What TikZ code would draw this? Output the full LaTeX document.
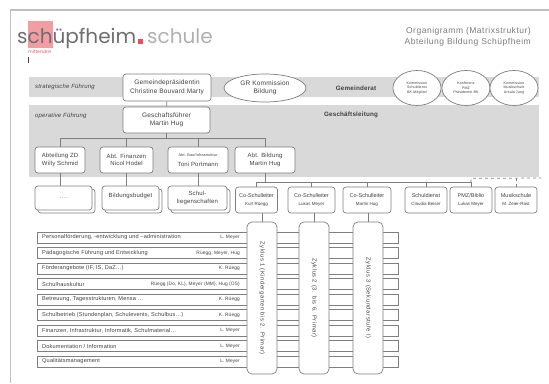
\documentclass[tikz,border=0pt]{standalone}
\usepackage{fontspec}
\setmainfont[LetterSpace=3]{Liberation Sans}
\newfontfamily\logofont{Poppins}
\usetikzlibrary{shapes.geometric}
\definecolor{bandgray}{HTML}{D9D9D9}
\definecolor{boxgray}{HTML}{7F7F7F}
\definecolor{txtgray}{HTML}{404040}
\definecolor{logopink}{HTML}{F29CA4}
\definecolor{logored}{HTML}{E4505C}
\definecolor{logogray}{HTML}{6E6E6E}
\definecolor{schulegray}{HTML}{B0B0B0}
\definecolor{titlegray}{HTML}{7A7A7A}
\definecolor{framegray}{HTML}{C0C0C0}
\newcommand{\fsz}[2]{\fontsize{#1}{#2}\selectfont}

\begin{document}
\begin{tikzpicture}[x=1pt, y=-1pt,
        orgbox/.style={draw=boxgray, fill=white, rounded corners=3pt, line width=0.7pt, align=center, inner sep=0pt, text=txtgray, font=\fsz{6}{7.5}},
        leadbox/.style={orgbox, minimum height=26, font=\fsz{5.5}{7}\addfontfeatures{LetterSpace=0}},
        oval/.style={ellipse, draw=boxgray, fill=white, line width=0.7pt, align=center, inner sep=0pt, text=txtgray},
        taskrow/.style={draw=boxgray, fill=white, line width=0.6pt, minimum width=361, minimum height=11, inner sep=0pt},
        zyklus/.style={draw=boxgray, fill=white, rounded corners=5pt, line width=0.7pt, minimum width=30, minimum height=152, inner sep=0pt, text=txtgray, font=\fsz{5.8}{6}\addfontfeatures{LetterSpace=10}},
        conn/.style={draw=boxgray, line width=0.7pt},
        lbl/.style={text=txtgray, inner sep=0pt}]
    \useasboundingbox (0,0) rectangle (549,383);
    \draw[framegray, line width=1.5pt] (549,10) -- (10.5,10) -- (10.5,383);

    \node[anchor=base west, inner sep=0pt, text=logogray] (logo) at (17,43) {\logofont\fsz{20}{24}s{\setlength{\fboxsep}{0pt}\colorbox{logopink}{\rule[-5pt]{0pt}{27pt}ch}}üpfheim};
    \node[anchor=west, inner sep=0pt, text=logored] (motto) at (28,51.5) {\logofont\fsz{4.5}{5}mittendrin};
    \fill[logored] (138,39) rectangle (143,44);
    \node[anchor=base west, inner sep=0pt, text=schulegray] (schule) at (147,43) {\logofont\fsz{20}{24}schule};
    \draw[txtgray, line width=0.9pt] (28.5,57) -- (28.5,63);

    \node[anchor=north east, align=right, inner sep=0pt, text=titlegray, font=\fsz{8.5}{11}\addfontfeatures{LetterSpace=6}] (title) at (531,27) {Organigramm (Matrixstruktur)\\Abteilung Bildung Schüpfheim};

    \fill[bandgray] (29,77) rectangle (539,97);
    \fill[bandgray] (29,105) rectangle (539,177);
    \node[lbl, anchor=west, font=\fsz{6}{7}\itshape] (strat) at (35,87) {strategische Führung};
    \node[lbl, anchor=west, font=\fsz{6}{7}\itshape] (oper) at (35,116) {operative Führung};
    \node[lbl, font=\fsz{6.3}{7}\bfseries] (gr) at (356,88) {Gemeinderat};
    \node[lbl, font=\fsz{6.3}{7}\bfseries] (gl) at (351,115) {Geschäftsleitung};

    \node[orgbox, minimum width=88, minimum height=27, font=\fsz{6.5}{8.5}] (gp) at (167,87.5) {Gemeindepräsidentin\\Christine Bouvard Marty};
    \node[oval, minimum width=82, minimum height=28, font=\fsz{6.5}{8}] (grk) at (265,88) {GR Kommission\\Bildung};
    \node[oval, minimum width=48, minimum height=35, font=\fsz{3.6}{4.6}] (ksd) at (417,88) {Kommission\\Schuldienst\\\textit{BK-Mitglied}};
    \node[oval, minimum width=48, minimum height=35, font=\fsz{3.6}{4.6}] (kpmz) at (466,88) {Konferenz\\PMZ\\\textit{Präsidentin BK}};
    \node[oval, minimum width=48, minimum height=35, font=\fsz{3.6}{4.6}] (kmus) at (514,88) {Kommission\\Musikschule\\Ursula Jung};

    \node[orgbox, minimum width=87, minimum height=26, font=\fsz{6.5}{8.5}] (gf) at (166.5,120) {Geschaftsführer\\Martin Hug};
    \node[orgbox, minimum width=50, minimum height=26] (zd) at (60,160) {Abteilung ZD\\Willy Schmid};
    \node[orgbox, minimum width=53, minimum height=26] (fin) at (126.5,160) {Abt. Finanzen\\Nicol Hodel};
    \node[orgbox, minimum width=60, minimum height=26] (bau) at (198,160) {{\fsz{3.8}{4}Abt. Bau/Infrastruktur}\\[3pt]Toni Portmann};
    \node[orgbox, minimum width=60, minimum height=26] (bild) at (265,160) {Abt. Bildung\\Martin Hug};

    \draw[conn] (gp) -- (gf);
    \draw[conn] (gf.south) -- ++(0,5) coordinate (bus1);
    \draw[conn] (zd.north) |- (bus1) -| (bild.north);
    \draw[conn] (fin.north) |- (bus1);
    \draw[conn] (bau.north) |- (bus1);

    \node[orgbox, minimum width=57, minimum height=24] (dotsback) at (66.5,201) {};
    \node[orgbox, minimum width=57, minimum height=24, text=gray] (dots) at (63.5,198) {....};
    \node[orgbox, minimum width=57, minimum height=24] (budgetback) at (133.5,201) {};
    \node[orgbox, minimum width=57, minimum height=24] (budget) at (130.5,198) {\raisebox{5pt}{Bildungsbudget}};
    \node[orgbox, minimum width=59, minimum height=24] (liegback) at (200.5,201) {};
    \node[orgbox, minimum width=59, minimum height=24] (lieg) at (197.5,198) {Schul-\\liegenschaften};
    \draw[conn] (zd.south) -- (zd.south |- dots.north);
    \draw[conn] (fin.south) -- (fin.south |- budget.north);
    \draw[conn] (bau.south) -- (bau.south |- lieg.north);

    \node[leadbox, minimum width=42] (co1) at (256.5,200) {Co-Schulleiter\\[1pt]{\fsz{4.5}{5}Kurt Rüegg}};
    \node[leadbox, minimum width=47] (co2) at (311.5,200) {Co-Schulleiter\\[1pt]{\fsz{4.5}{5}Lukas Meyer}};
    \node[leadbox, minimum width=48] (co3) at (367,200) {Co-Schulleiter\\[1pt]{\fsz{4.5}{5}Martin Hug}};
    \node[leadbox, minimum width=42] (sd) at (426,200) {Schuldienst\\[1pt]{\fsz{4.5}{5}Claudia Beiser}};
    \node[leadbox, minimum width=42] (pmz) at (471,200) {PMZ/Biblio\\[1pt]{\fsz{4.5}{5}Lukas Meyer}};
    \node[leadbox, minimum width=42] (mus) at (516,200) {Musikschule\\[1pt]{\fsz{4.5}{5}M. Zeier-Rast}};

    \draw[conn] (bild.south) -- ++(0,9) coordinate (bus2);
    \draw[conn] (co1.north) |- (bus2);
    \foreach \n in {co2,co3,sd,pmz}
        \draw[conn] (\n.north) |- (bus2);
    \draw[conn, dashed] (pmz.north |- bus2) -- ++(0,-4) -- (541,178);
    \draw[conn, dashed] (mus.north) -- (mus.north |- 0,178);

    \foreach \task/\who [count=\i] in {
            {Personalförderung, -entwicklung und –administration}/{L. Meyer},
            {Pädagogische Führung und Entwicklung}/{Rüegg, Meyer, Hug},
            {Förderangebote (IF, IS, DaZ…)}/{K. Rüegg},
            {Schulhauskultur}/{Rüegg (Do, KL), Meyer (MM), Hug (OS)},
            {Betreuung, Tagesstrukturen, Mensa …}/{K. Rüegg},
            {Schulbetrieb (Stundenplan, Schulevents, Schulbus…)}/{K. Rüegg},
            {Finanzen, Infrastruktur, Informatik, Schulmaterial…}/{L. Meyer},
            {Dokumentation / Information}/{L. Meyer},
            {Qualitätsmanagement}/{L. Meyer}} {
        \node[taskrow] (row\i) at (217.5,{222+15.5*\i}) {};
        \node[lbl, anchor=west, font=\fsz{5.6}{6}] (task\i) at (42,{222+15.5*\i}) {\task};
        \node[lbl, anchor=east, font=\fsz{4.8}{5}] (who\i) at (240,{222+15.5*\i}) {\who};
    }

    \node[zyklus] (z1) at (262,298) {\rotatebox{-90}{Zyklus 1 (Kindergarten bis 2. Primar)}};
    \node[zyklus] (z2) at (314,298) {\rotatebox{-90}{Zyklus 2 (3. bis 6. Primar)}};
    \node[zyklus] (z3) at (368,298) {\rotatebox{-90}{Zyklus 3 (Sekundarstufe I)}};
    \draw[conn] (z1.north) -- (z1.north |- co1.south);
    \draw[conn] (z2.north) -- (z2.north |- co2.south);
    \draw[conn] (z3.north) -- (z3.north |- co3.south);
\end{tikzpicture}
\end{document}
